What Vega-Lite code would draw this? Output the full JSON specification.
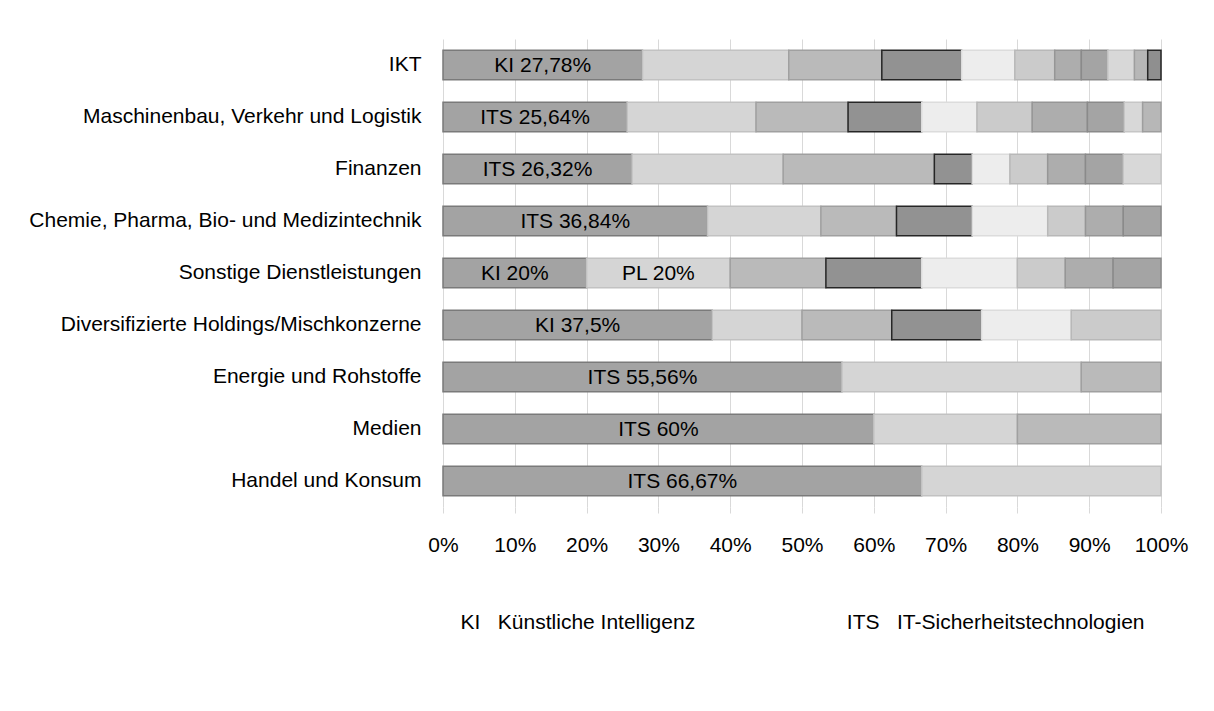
{
  "$schema": "https://vega.github.io/schema/vega-lite/v6.json",
  "width": 718,
  "height": 468,
  "autosize": {"type": "none"},
  "padding": {"left": 443, "top": 39, "right": 53, "bottom": 204},
  "background": "white",
  "config": {
    "font": "Liberation Sans",
    "view": {"stroke": null}
  },
  "data": {
    "values": [
      {"sektor": "IKT", "rang": 1, "anteil": 27.78, "label": "KI 27,78%"},
      {"sektor": "IKT", "rang": 2, "anteil": 20.37},
      {"sektor": "IKT", "rang": 3, "anteil": 12.96},
      {"sektor": "IKT", "rang": 4, "anteil": 11.11},
      {"sektor": "IKT", "rang": 5, "anteil": 7.41},
      {"sektor": "IKT", "rang": 6, "anteil": 5.56},
      {"sektor": "IKT", "rang": 7, "anteil": 3.70},
      {"sektor": "IKT", "rang": 8, "anteil": 3.70},
      {"sektor": "IKT", "rang": 9, "anteil": 3.70},
      {"sektor": "IKT", "rang": 10, "anteil": 1.85},
      {"sektor": "IKT", "rang": 11, "anteil": 1.85},
      {"sektor": "Maschinenbau, Verkehr und Logistik", "rang": 1, "anteil": 25.64, "label": "ITS 25,64%"},
      {"sektor": "Maschinenbau, Verkehr und Logistik", "rang": 2, "anteil": 17.95},
      {"sektor": "Maschinenbau, Verkehr und Logistik", "rang": 3, "anteil": 12.82},
      {"sektor": "Maschinenbau, Verkehr und Logistik", "rang": 4, "anteil": 10.26},
      {"sektor": "Maschinenbau, Verkehr und Logistik", "rang": 5, "anteil": 7.69},
      {"sektor": "Maschinenbau, Verkehr und Logistik", "rang": 6, "anteil": 7.69},
      {"sektor": "Maschinenbau, Verkehr und Logistik", "rang": 7, "anteil": 7.69},
      {"sektor": "Maschinenbau, Verkehr und Logistik", "rang": 8, "anteil": 5.13},
      {"sektor": "Maschinenbau, Verkehr und Logistik", "rang": 9, "anteil": 2.56},
      {"sektor": "Maschinenbau, Verkehr und Logistik", "rang": 10, "anteil": 2.56},
      {"sektor": "Finanzen", "rang": 1, "anteil": 26.32, "label": "ITS 26,32%"},
      {"sektor": "Finanzen", "rang": 2, "anteil": 21.05},
      {"sektor": "Finanzen", "rang": 3, "anteil": 21.05},
      {"sektor": "Finanzen", "rang": 4, "anteil": 5.26},
      {"sektor": "Finanzen", "rang": 5, "anteil": 5.26},
      {"sektor": "Finanzen", "rang": 6, "anteil": 5.26},
      {"sektor": "Finanzen", "rang": 7, "anteil": 5.26},
      {"sektor": "Finanzen", "rang": 8, "anteil": 5.26},
      {"sektor": "Finanzen", "rang": 9, "anteil": 5.26},
      {"sektor": "Chemie, Pharma, Bio- und Medizintechnik", "rang": 1, "anteil": 36.84, "label": "ITS 36,84%"},
      {"sektor": "Chemie, Pharma, Bio- und Medizintechnik", "rang": 2, "anteil": 15.79},
      {"sektor": "Chemie, Pharma, Bio- und Medizintechnik", "rang": 3, "anteil": 10.53},
      {"sektor": "Chemie, Pharma, Bio- und Medizintechnik", "rang": 4, "anteil": 10.53},
      {"sektor": "Chemie, Pharma, Bio- und Medizintechnik", "rang": 5, "anteil": 10.53},
      {"sektor": "Chemie, Pharma, Bio- und Medizintechnik", "rang": 6, "anteil": 5.26},
      {"sektor": "Chemie, Pharma, Bio- und Medizintechnik", "rang": 7, "anteil": 5.26},
      {"sektor": "Chemie, Pharma, Bio- und Medizintechnik", "rang": 8, "anteil": 5.26},
      {"sektor": "Sonstige Dienstleistungen", "rang": 1, "anteil": 20.00, "label": "KI 20%"},
      {"sektor": "Sonstige Dienstleistungen", "rang": 2, "anteil": 20.00, "label": "PL 20%"},
      {"sektor": "Sonstige Dienstleistungen", "rang": 3, "anteil": 13.33},
      {"sektor": "Sonstige Dienstleistungen", "rang": 4, "anteil": 13.33},
      {"sektor": "Sonstige Dienstleistungen", "rang": 5, "anteil": 13.33},
      {"sektor": "Sonstige Dienstleistungen", "rang": 6, "anteil": 6.67},
      {"sektor": "Sonstige Dienstleistungen", "rang": 7, "anteil": 6.67},
      {"sektor": "Sonstige Dienstleistungen", "rang": 8, "anteil": 6.67},
      {"sektor": "Diversifizierte Holdings/Mischkonzerne", "rang": 1, "anteil": 37.5, "label": "KI 37,5%"},
      {"sektor": "Diversifizierte Holdings/Mischkonzerne", "rang": 2, "anteil": 12.5},
      {"sektor": "Diversifizierte Holdings/Mischkonzerne", "rang": 3, "anteil": 12.5},
      {"sektor": "Diversifizierte Holdings/Mischkonzerne", "rang": 4, "anteil": 12.5},
      {"sektor": "Diversifizierte Holdings/Mischkonzerne", "rang": 5, "anteil": 12.5},
      {"sektor": "Diversifizierte Holdings/Mischkonzerne", "rang": 6, "anteil": 12.5},
      {"sektor": "Energie und Rohstoffe", "rang": 1, "anteil": 55.56, "label": "ITS 55,56%"},
      {"sektor": "Energie und Rohstoffe", "rang": 2, "anteil": 33.33},
      {"sektor": "Energie und Rohstoffe", "rang": 3, "anteil": 11.11},
      {"sektor": "Medien", "rang": 1, "anteil": 60, "label": "ITS 60%"},
      {"sektor": "Medien", "rang": 2, "anteil": 20},
      {"sektor": "Medien", "rang": 3, "anteil": 20},
      {"sektor": "Handel und Konsum", "rang": 1, "anteil": 66.67, "label": "ITS 66,67%"},
      {"sektor": "Handel und Konsum", "rang": 2, "anteil": 33.33}
    ]
  },
  "encoding": {
    "y": {
      "field": "sektor",
      "type": "nominal",
      "sort": ["IKT", "Maschinenbau, Verkehr und Logistik", "Finanzen", "Chemie, Pharma, Bio- und Medizintechnik", "Sonstige Dienstleistungen", "Diversifizierte Holdings/Mischkonzerne", "Energie und Rohstoffe", "Medien", "Handel und Konsum"],
      "scale": {"paddingInner": 0.43, "paddingOuter": 0.215},
      "axis": {
        "title": null,
        "ticks": false,
        "domain": false,
        "labelFontSize": 21,
        "labelColor": "#000000",
        "labelPadding": 22,
        "labelLimit": 600
      }
    }
  },
  "layer": [
    {
      "mark": {"type": "bar", "strokeWidth": 1.5},
      "encoding": {
        "x": {
          "field": "anteil",
          "type": "quantitative",
          "stack": "normalize",
          "scale": {"domain": [0, 1], "nice": false},
          "axis": {
            "format": "%",
            "values": [0, 0.1, 0.2, 0.3, 0.4, 0.5, 0.6, 0.7, 0.8, 0.9, 1],
            "labelFlush": false,
            "grid": true,
            "gridColor": "#d9d9d9",
            "gridWidth": 1,
            "domain": false,
            "ticks": true,
            "tickColor": "#d9d9d9",
            "tickSize": 6,
            "labelFontSize": 21,
            "labelColor": "#000000",
            "labelPadding": 21,
            "title": "KI\u00a0\u00a0\u00a0Künstliche Intelligenz\u00a0\u00a0\u00a0\u00a0\u00a0\u00a0\u00a0\u00a0\u00a0\u00a0\u00a0\u00a0\u00a0\u00a0\u00a0\u00a0\u00a0\u00a0\u00a0\u00a0\u00a0\u00a0\u00a0\u00a0\u00a0\u00a0ITS\u00a0\u00a0\u00a0IT-Sicherheitstechnologien\u00a0\u00a0\u00a0\u00a0",
            "titleFontSize": 21,
            "titleFontWeight": "normal",
            "titleColor": "#000000",
            "titlePadding": 56
          }
        },
        "order": {"field": "rang", "type": "quantitative", "sort": "ascending"},
        "color": {
          "field": "rang",
          "type": "ordinal",
          "scale": {
            "domain": [1, 2, 3, 4, 5, 6, 7, 8, 9, 10, 11],
            "range": ["#a3a3a3", "#d5d5d5", "#bababa", "#929292", "#ededed", "#cbcbcb", "#adadad", "#a4a4a4", "#d8d8d8", "#b7b7b7", "#8f8f8f"]
          },
          "legend": null
        },
        "stroke": {
          "field": "rang",
          "type": "ordinal",
          "scale": {
            "domain": [1, 2, 3, 4, 5, 6, 7, 8, 9, 10, 11],
            "range": ["#7a7a7a", "#c2c2c2", "#a0a0a0", "#262626", "#dcdcdc", "#b8b8b8", "#969696", "#8a8a8a", "#c6c6c6", "#9e9e9e", "#262626"]
          },
          "legend": null
        }
      }
    },
    {
      "transform": [
        {"stack": "anteil", "groupby": ["sektor"], "sort": [{"field": "rang", "order": "ascending"}], "offset": "normalize", "as": ["x0", "x1"]},
        {"filter": "isValid(datum.label)"},
        {"calculate": "(datum.x0 + datum.x1) / 2", "as": "mitte"}
      ],
      "mark": {"type": "text", "fontSize": 21, "color": "#000000", "baseline": "middle", "align": "center", "dy": 1},
      "encoding": {
        "x": {"field": "mitte", "type": "quantitative"},
        "text": {"field": "label"}
      }
    }
  ]
}
